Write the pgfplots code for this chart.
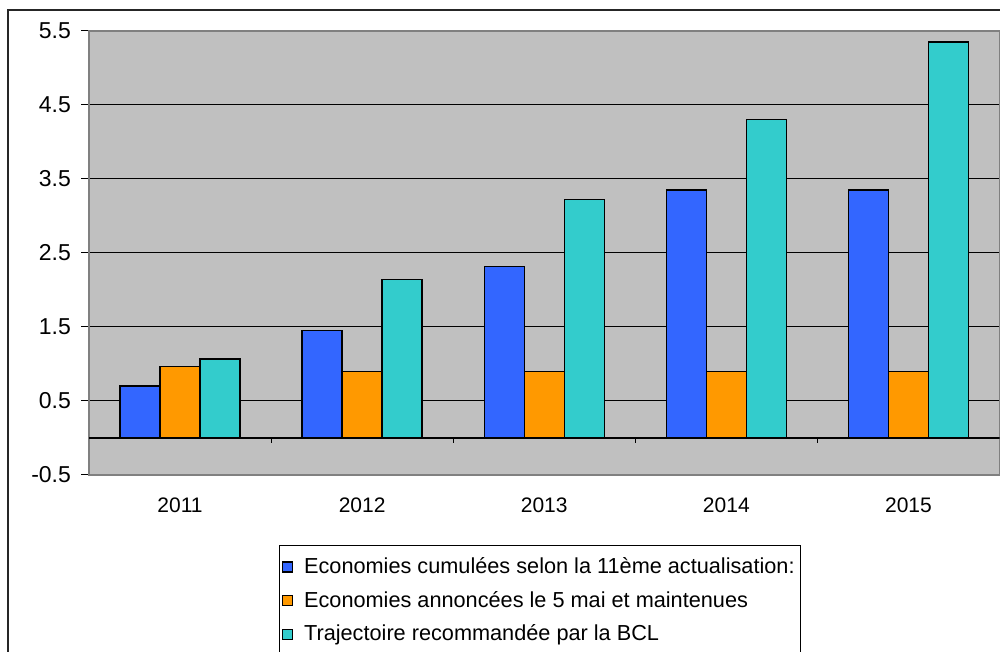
\documentclass[border=0pt]{standalone}
\usepackage{fontspec}
\setmainfont{Liberation Sans}
\usepackage{pgfplots}
\pgfplotsset{compat=1.18}

\definecolor{serA}{HTML}{3366FF}
\definecolor{serB}{HTML}{FF9900}
\definecolor{serC}{HTML}{33CCCC}
\definecolor{plotbg}{HTML}{C0C0C0}
\definecolor{axgray}{HTML}{808080}

\begin{document}
\begin{tikzpicture}
\useasboundingbox (0,0) rectangle (500pt,326pt);
\draw[black!85, line width=0.7pt, fill=white] (4pt,-20pt) rectangle (520pt,321pt);
\begin{axis}[
    at={(44.5pt,88.5pt)}, anchor=south west,
    scale only axis,
    width=455.25pt, height=222pt,
    xmin=-0.5, xmax=4.5,
    ymin=-0.5, ymax=5.5,
    ybar=0pt, bar width=20pt,
    axis background/.style={fill=plotbg},
    axis line style={draw=axgray, line width=0.8pt},
    xtick={0,1,2,3,4},
    xticklabels={2011,2012,2013,2014,2015},
    x tick style={draw=none},
    xticklabel shift=4pt,
    xticklabel style={font=\fontsize{10.5}{12}\selectfont},
    ytick={-0.5,0.5,1.5,2.5,3.5,4.5,5.5},
    yticklabels={-0.5,0.5,1.5,2.5,3.5,4.5,5.5},
    ytick pos=left, tick align=outside,
    y tick style={draw=black, line width=0.5pt},
    major tick length=4pt,
    yticklabel shift=1.5pt,
    yticklabel style={font=\fontsize{11.5}{13}\selectfont},
    ymajorgrids=true,
    major grid style={draw=black, line width=0.5pt},
    /pgf/number format/assume math mode=true,
    legend style={at={(axis description cs:0.2087,-0.1577)}, anchor=north west,
        draw=black, line width=0.5pt, fill=white,
        font=\fontsize{10.85}{13}\selectfont, row sep=3.3pt,
        inner xsep=1pt, inner ysep=4pt},
    legend cell align=left,
    legend image code/.code={\draw[#1, draw=black, line width=0.6pt] (0pt,-2.5pt) rectangle (5pt,2.5pt);
        \path[draw=none, fill=none] (9pt,0pt) circle (0pt);},
]
\draw[black, line width=0.6pt] (axis cs:-0.5,0) -- (axis cs:4.5,0);
\pgfplotsinvokeforeach{0.5,1.5,2.5,3.5}{
    \draw[black, line width=0.5pt] (axis cs:#1,0) -- ++(0pt,-2.5pt);
}
\addplot[fill=serA, draw=black, line width=0.7pt] coordinates {(0,0.70) (1,1.45) (2,2.32) (3,3.35) (4,3.35)};
\addlegendentry{Economies cumulées selon la 11ème actualisation:}
\addplot[fill=serB, draw=black, line width=0.7pt] coordinates {(0,0.97) (1,0.90) (2,0.90) (3,0.90) (4,0.90)};
\addlegendentry{Economies annoncées le 5 mai et maintenues}
\addplot[fill=serC, draw=black, line width=0.7pt] coordinates {(0,1.07) (1,2.14) (2,3.22) (3,4.30) (4,5.35)};
\addlegendentry{Trajectoire recommandée par la BCL}
\end{axis}
\end{tikzpicture}
\end{document}
